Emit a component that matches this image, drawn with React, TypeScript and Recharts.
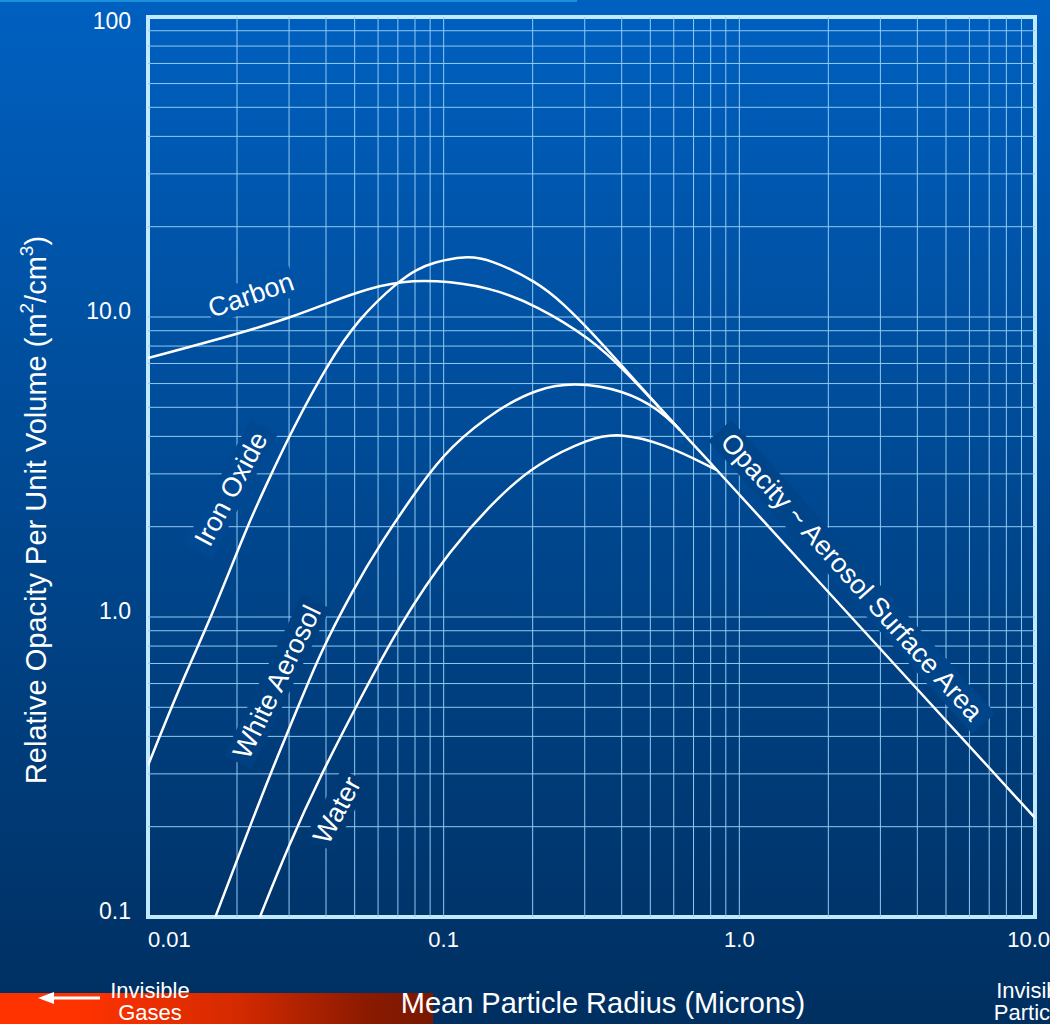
import React from 'react';
import {
    LineChart, Line, XAxis, YAxis, ReferenceLine, ReferenceDot, ReferenceArea,
} from 'recharts';

// mean particle radius (microns) / relative opacity
const carbonRadius = [0.01, 0.0203, 0.0307, 0.0403, 0.0513, 0.0609, 0.0712, 0.092, 0.1435, 0.207, 0.313, 0.407, 0.63, 0.84, 1.174, 10];
const carbonOpacity = [7.3, 8.8, 10.0, 11.1, 12.1, 12.7, 13.1, 13.3, 12.6, 10.9, 8.5, 6.7, 4.2, 3.09, 2.15, 0.214];

const ironRadius = [0.01, 0.0131, 0.0164, 0.0216, 0.0253, 0.0307, 0.0403, 0.0513, 0.0712, 0.0812, 0.092, 0.118, 0.1435, 0.207, 0.2535, 0.313, 0.407, 0.63];
const ironOpacity = [0.32, 0.62, 1.0, 2.0, 2.8, 4.2, 6.9, 9.85, 13.3, 14.4, 15.2, 16.0, 15.6, 13.1, 11.1, 9.0, 6.75, 4.2];

const whiteRadius = [0.0169, 0.0205, 0.0259, 0.0319, 0.0382, 0.0493, 0.0609, 0.0832, 0.105, 0.155, 0.207, 0.274, 0.407, 0.539, 0.63];
const whiteOpacity = [0.1, 0.165, 0.3, 0.49, 0.759, 1.23, 1.75, 2.75, 3.7, 5.0, 5.75, 6.07, 5.71, 4.9, 4.2];

const waterRadius = [0.0239, 0.0297, 0.0387, 0.0509, 0.0712, 0.105, 0.155, 0.207, 0.313, 0.389, 0.552, 0.84];
const waterOpacity = [0.1, 0.171, 0.302, 0.509, 0.95, 1.68, 2.55, 3.25, 3.95, 4.11, 3.8, 3.09];

const xTicks = [0.01, 0.1, 1, 10];
const xTickLabels = ['0.01', '0.1', '1.0', '10.0'];
const yTicks = [0.1, 1, 10, 100];
const yTickLabels = ['0.1', '1.0', '10.0', '100'];

const gridX = [0.02, 0.03, 0.04, 0.05, 0.06, 0.07, 0.08, 0.09, 0.1, 0.2, 0.3, 0.4, 0.5, 0.6, 0.7, 0.8, 0.9, 1, 2, 3, 4, 5, 6, 7, 8, 9];
const gridY = [0.2, 0.3, 0.4, 0.5, 0.6, 0.7, 0.8, 0.9, 1, 2, 3, 4, 5, 6, 7, 8, 9, 10, 20, 30, 40, 50, 60, 70, 80, 90];

const labelTexts = ['Carbon', 'Iron Oxide', 'White Aerosol', 'Water', 'Opacity ~ Aerosol Surface Area'];
const labelRadius = [0.0223, 0.0191, 0.0273, 0.0436, 2.4];
const labelOpacity = [11.84, 2.67, 0.607, 0.227, 1.36];
const labelAngles = [-19, -62, -64, -62, 48];

const toPoints = (xs: number[], ys: number[]) => xs.map((x, i) => ({ x, y: ys[i] }));

const W = 1050;
const H = 1024;
const FONT = '"Liberation Sans", Arial, Helvetica, sans-serif';
const GRID = '#8fcaf2';

// local background colour so label boxes blend with the gradient
const bgAt = (y: number) => {
    const t = Math.min(1, Math.max(0, y / H));
    return `rgb(0,${Math.round(96 - 49 * t)},${Math.round(192 - 96 * t)})`;
};

const CurveLabel = (props: any) => {
    const { cx, cy, text, angle } = props;
    if (cx == null || cy == null) return <g />;
    const fs = 27;
    const w = text.length * fs * 0.47 + 14;
    const h = fs * 1.15;
    return (
        <g transform={`rotate(${angle} ${cx} ${cy})`}>
            <rect x={cx - w / 2} y={cy - h / 2} width={w} height={h} fill={bgAt(cy)} />
            <text
                x={cx}
                y={cy}
                textAnchor="middle"
                dominantBaseline="central"
                fill="#fff"
                fontSize={fs}
                fontFamily={FONT}
            >
                {text}
            </text>
        </g>
    );
};

const XTick = (props: any) => {
    const { x, y, payload, index } = props;
    const i = xTicks.indexOf(payload.value);
    let anchor: 'start' | 'middle' | 'end' = 'middle';
    let tx = x;
    if (i === 0) anchor = 'start';
    if (i === xTicks.length - 1) { anchor = 'end'; tx = x + 15; }
    return (
        <text key={index} x={tx} y={y + 20} textAnchor={anchor} dominantBaseline="central" fill="#fff" fontSize={22} fontFamily={FONT}>
            {xTickLabels[i]}
        </text>
    );
};

const YTick = (props: any) => {
    const { x, y, payload, index } = props;
    const i = yTicks.indexOf(payload.value);
    return (
        <text key={index} x={x - 1} y={y + (payload.value === 100 ? 4 : -6)} textAnchor="end" dominantBaseline="central" fill="#fff" fontSize={23} fontFamily={FONT}>
            {yTickLabels[i]}
        </text>
    );
};

export default function App() {
    return (
        <div
            style={{
                position: 'fixed',
                left: 0,
                top: 0,
                width: W,
                height: H,
                overflow: 'hidden',
                background: 'linear-gradient(to bottom, #0060c0 0%, #002f60 100%)',
                fontFamily: FONT,
            }}
        >
            <div style={{ position: 'absolute', left: 0, top: 0, width: 577, height: 2, background: '#1a8fdc' }} />
            <div style={{ position: 'absolute', left: 0, top: 0 }}>
                <LineChart width={W} height={H} margin={{ top: 17, right: 15, bottom: 77, left: 88 }}>
                    <XAxis
                        dataKey="x"
                        type="number"
                        scale="log"
                        domain={[0.01, 10]}
                        ticks={xTicks}
                        allowDataOverflow
                        axisLine={false}
                        tickLine={false}
                        tickSize={0}
                        height={30}
                        tick={<XTick />}
                    />
                    <YAxis
                        dataKey="y"
                        type="number"
                        scale="log"
                        domain={[0.1, 100]}
                        ticks={yTicks}
                        allowDataOverflow
                        axisLine={false}
                        tickLine={false}
                        tickSize={0}
                        tickMargin={16}
                        width={60}
                        tick={<YTick />}
                    />
                    {gridX.map((v) => (
                        <ReferenceLine key={`gx${v}`} x={v} stroke={GRID} strokeWidth={1} />
                    ))}
                    {gridY.map((v) => (
                        <ReferenceLine key={`gy${v}`} y={v} stroke={GRID} strokeWidth={1} />
                    ))}
                    {labelTexts.map((t, i) => (
                        <ReferenceDot
                            key={t}
                            x={labelRadius[i]}
                            y={labelOpacity[i]}
                            r={0}
                            shape={(p: any) => <CurveLabel {...p} text={t} angle={labelAngles[i]} />}
                        />
                    ))}
                    <Line data={toPoints(waterRadius, waterOpacity)} dataKey="y" type="basis" stroke="#fff" strokeWidth={2.5} dot={false} isAnimationActive={false} />
                    <Line data={toPoints(whiteRadius, whiteOpacity)} dataKey="y" type="basis" stroke="#fff" strokeWidth={2.5} dot={false} isAnimationActive={false} />
                    <Line data={toPoints(ironRadius, ironOpacity)} dataKey="y" type="basis" stroke="#fff" strokeWidth={2.5} dot={false} isAnimationActive={false} />
                    <Line data={toPoints(carbonRadius, carbonOpacity)} dataKey="y" type="basis" stroke="#fff" strokeWidth={2.5} dot={false} isAnimationActive={false} />
                    <ReferenceArea x1={0.01} x2={10} y1={0.1} y2={100} fill="none" stroke="#bfeaff" strokeWidth={4} />
                </LineChart>
            </div>
            <svg width={W} height={H} style={{ position: 'absolute', left: 0, top: 0, pointerEvents: 'none' }}>
                <defs>
                    <linearGradient id="gasBar" x1="0" y1="0" x2="1" y2="0">
                        <stop offset="0%" stopColor="#ff3300" />
                        <stop offset="18%" stopColor="#ff3300" />
                        <stop offset="55%" stopColor="#d42a00" />
                        <stop offset="85%" stopColor="#8a1a00" />
                        <stop offset="100%" stopColor="#781800" />
                    </linearGradient>
                </defs>
                <rect x={0} y={993} width={433} height={31} fill="url(#gasBar)" />
                <line x1={50} y1={998} x2={100} y2={998} stroke="#fff" strokeWidth={3} />
                <polygon points="38,998 54,992 54,1004" fill="#fff" />
                <text x={150} y={990} textAnchor="middle" dominantBaseline="central" fill="#fff" fontSize={22} fontFamily={FONT}>Invisible</text>
                <text x={150} y={1012} textAnchor="middle" dominantBaseline="central" fill="#fff" fontSize={22} fontFamily={FONT}>Gases</text>
                <text x={1036} y={990} textAnchor="middle" dominantBaseline="central" fill="#fff" fontSize={22} fontFamily={FONT}>Invisible</text>
                <text x={1036} y={1012} textAnchor="middle" dominantBaseline="central" fill="#fff" fontSize={22} fontFamily={FONT}>Particles</text>
                <text x={603} y={1003} textAnchor="middle" dominantBaseline="central" fill="#fff" fontSize={29} fontFamily={FONT}>
                    Mean Particle Radius (Microns)
                </text>
                <text
                    x={36}
                    y={510}
                    transform="rotate(-90 36 510)"
                    textAnchor="middle"
                    dominantBaseline="central"
                    fill="#fff"
                    fontSize={29}
                    fontFamily={FONT}
                >
                    Relative Opacity Per Unit Volume (m
                    <tspan dy={-10} fontSize={19}>2</tspan>
                    <tspan dy={10}>/cm</tspan>
                    <tspan dy={-10} fontSize={19}>3</tspan>
                    <tspan dy={10}>)</tspan>
                </text>
            </svg>
        </div>
    );
}
